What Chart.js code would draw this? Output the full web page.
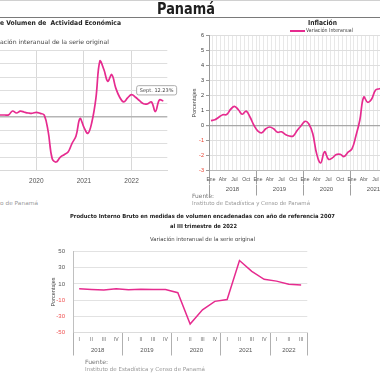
<!DOCTYPE html>
<html><head><meta charset="utf-8">
<script src="https://cdn.jsdelivr.net/npm/chart.js@4"></script>
<style>
html,body{margin:0;padding:0;background:#fff;}
body{width:380px;height:380px;overflow:hidden;position:relative;font-family:"DejaVu Sans",sans-serif;}
canvas{position:absolute;}
.t{position:absolute;white-space:nowrap;line-height:1;transform-origin:0 50%;}
</style></head><body>
<canvas id="c1" width="210" height="150" style="left:-20px;top:40px"></canvas>
<canvas id="c2" width="230" height="175" style="left:180px;top:28px"></canvas>
<canvas id="c3" width="280" height="120" style="left:40px;top:240px"></canvas>

<div style="position:absolute;left:0;top:0;width:380px;height:1px;background:#d0d0d0"></div>
<div style="position:absolute;left:0;top:16.5px;width:380px;height:1.5px;background:#7a7a7a"></div>
<div style="position:absolute;left:290px;top:30px;width:15px;height:1.5px;background:#e62b8f"></div>

<div class="t" data-w="58" data-cy="9.8" style="left:157px;font-size:15px;font-weight:bold;color:#1e1e1e">Panamá</div>
<div class="t" data-w="121" data-cy="23.5" style="left:0px;font-size:6.5px;font-weight:bold;color:#222">e Volumen de&nbsp; Actividad Económica</div>
<div class="t" data-w="109" data-cy="42" style="left:0px;font-size:6px;color:#444">ación interanual de la serie original</div>
<div class="t" data-w="38" data-cy="204" style="left:0px;font-size:5.5px;color:#999">o de Panamá</div>
<div class="t" data-w="29" data-cy="23.5" style="left:308px;font-size:7px;font-weight:bold;color:#222">Inflación</div>
<div class="t" data-w="47" data-cy="30.7" style="left:306px;font-size:5.5px;color:#444">Variación Interanual</div>
<div class="t" data-w="22" data-cy="196" style="left:192px;font-size:6px;color:#777">Fuente:</div>
<div class="t" data-w="118" data-cy="204" style="left:192px;font-size:5.5px;color:#999">Instituto de Estadística y Censo de Panamá</div>
<div class="t" data-w="265" data-cy="216.5" style="left:70px;font-size:5.6px;font-weight:bold;color:#222">Producto Interno Bruto en medidas de volumen encadenadas con año de referencia 2007</div>
<div class="t" data-w="67" data-cy="226.5" style="left:170px;font-size:5.6px;font-weight:bold;color:#222">al III trimestre de 2022</div>
<div class="t" data-w="105" data-cy="239.5" style="left:150px;font-size:5.5px;color:#444">Variación interanual de la serie original</div>
<div class="t" data-w="23" data-cy="361.7" style="left:85px;font-size:6px;color:#777">Fuente:</div>
<div class="t" data-w="120" data-cy="370" style="left:85px;font-size:5.5px;color:#999">Instituto de Estadística y Censo de Panamá</div>

<script>
// ---------- DATA ----------
// IMAE: monthly y/y variation, from Mar 2019 (month offset -10 relative to Jan 2020) to Sep 2022
const imaeFirstMonthOffset = -10;
const imaeValues = [1.7, 1.7, 1.7, 1.8, 4.7, 3.2, 4.6, 3.8, 3.2, 3.0,
  3.7, 2.9, 1.6, -11, -31, -33.5, -30, -28, -26, -19.5, -14, -1,
  -7.5, -12, -3.5, 14, 42, 36, 27, 32, 22, 15, 11.5, 14.5,
  17, 15, 12.4, 10.1, 10, 11.5, 4.3, 13, 12.23];
const imaeYearTicks = [2020, 2021, 2022];
const imaeLastLabel = 'Sept.';

// Inflation: monthly y/y, Jan 2018 ...
const monthAbbr = ['Ene','Feb','Mar','Abr','May','Jun','Jul','Ago','Sep','Oct','Nov','Dic'];
const inflYears = ['2018','2019','2020','2021'];
const inflValues = [0.33, 0.38, 0.55, 0.72, 0.73, 1.07, 1.28, 1.05, 0.75, 0.96, 0.55, 0.0,
  -0.37, -0.48, -0.22, -0.1, -0.22, -0.45, -0.42, -0.6, -0.7, -0.7, -0.33, -0.02,
  0.28, 0.1, -0.55, -1.9, -2.5, -1.75, -2.25, -2.16, -1.93, -1.92, -2.07, -1.78,
  -1.56, -0.7, 0.35, 1.9, 1.55, 1.75, 2.35, 2.45, 2.5];

// PIB: quarterly y/y
const pibYears = ['2018','2019','2020','2021','2022'];
const pibQuartersPerYear = [4, 4, 4, 4, 3];
const quarterNames = ['I','II','III','IV'];
const pibValues = [4.2, 3.3, 2.4, 4.2, 2.9, 3.6, 3.0, 3.0, -0.8, -39.5, -22, -11.5, -9.3, 39, 25.6, 15.8, 13.5, 9.6, 8.8];

// ---------- TEXT FIT ----------
document.querySelectorAll('.t').forEach(el => {
  const fs = parseFloat(el.style.fontSize);
  el.style.top = (parseFloat(el.dataset.cy) - fs / 2) + 'px';
  const nat = el.getBoundingClientRect().width;
  el.style.transform = 'scaleX(' + (parseFloat(el.dataset.w) / nat) + ')';
});

const PINK = '#e62b8f';
const TF = 'Liberation Sans';
const CLEAR = 'rgba(0,0,0,0)';
const base = {responsive:false, animation:false, devicePixelRatio:1,
  plugins:{legend:{display:false}, tooltip:{enabled:false}}};

// ---------- CHART 1: IMAE ----------
const annot = {
  id:'annot',
  afterDatasetsDraw(chart){
    const meta = chart.getDatasetMeta(0);
    const pt = meta.data[meta.data.length-1];
    const v = imaeValues[imaeValues.length-1];
    const ctx = chart.ctx;
    const x = pt.x - 26.7, y = pt.y - 15.3, w = 40, h = 9.3;
    ctx.save();
    ctx.beginPath();
    ctx.roundRect(x, y, w, h, 2);
    ctx.fillStyle = '#fff'; ctx.fill();
    ctx.strokeStyle = '#9a9a9a'; ctx.lineWidth = 0.8; ctx.stroke();
    ctx.fillStyle = '#444';
    ctx.font = '5px "DejaVu Sans"';
    ctx.textAlign = 'center'; ctx.textBaseline = 'middle';
    ctx.fillText(imaeLastLabel + ' ' + v.toFixed(2) + '%', x + w/2, y + h/2 + 0.3);
    ctx.restore();
  }
};
new Chart(document.getElementById('c1'), {
  type:'line',
  data:{datasets:[{data: imaeValues.map((v,i)=>({x: imaeFirstMonthOffset + i, y: v})),
    borderColor:PINK, borderWidth:1.7, pointRadius:0, tension:0.4, fill:false}]},
  options:Object.assign({}, base, {
    layout:{padding:{left:8.7, right:22.7, top:10.5, bottom:0}},
    scales:{
      x:{type:'linear', min:-12, max:33,
        afterBuildTicks:s=>{ s.ticks = imaeYearTicks.map(y=>({value:(y-2020)*12})); },
        afterFit:s=>{ s.height = 19.3; },
        grid:{color:'#d8d8d8', drawTicks:false},
        border:{display:true, color:'#d8d8d8'},
        ticks:{autoSkip:false, maxRotation:0, padding:6.4, font:{size:6.5, family:TF}, color:'#555',
          callback:v=> String(2020 + v/12)}},
      y:{min:-40, max:50,
        afterFit:s=>{ s.width = 0; },
        ticks:{stepSize:10, display:false},
        grid:{drawTicks:false, color:c=> c.tick.value===0 ? '#b5b5b5' : '#dedede',
          lineWidth:c=> c.tick.value===0 ? 1.6 : 1},
        border:{display:false}}
    }
  }),
  plugins:[annot]
});

// ---------- CHART 2: Inflación ----------
const inflLabels = [];
inflYears.forEach(()=> monthAbbr.forEach(m => inflLabels.push(m)));
const inflYearTicks = [];
inflYears.forEach((y,i)=>{ inflYearTicks.push(i*12, i*12+6); });
inflYearTicks.push(inflYears.length*12);
new Chart(document.getElementById('c2'), {
  type:'line',
  data:{labels:inflLabels, datasets:[{data:inflValues, borderColor:PINK, borderWidth:1.7,
    pointRadius:0, tension:0.4, fill:false, xAxisID:'x', yAxisID:'y'}]},
  options:Object.assign({}, base, {
    layout:{padding:{left:0, right:13, top:7.5, bottom:7.5}},
    scales:{
      x:{type:'category', position:'bottom', weight:0, offset:true,
        afterFit:s=>{ s.height = 14; },
        grid:{offset:true, color:'#e8e8e8', drawTicks:true, tickLength:14,
          tickColor:c=> (c.index===undefined || c.index%12===0) ? '#a0a0a0' : CLEAR},
        border:{display:true, color:'#b8b8b8'},
        ticks:{autoSkip:false, maxRotation:0, minRotation:0, padding:-8.3,
          font:{size:5, family:TF}, color:'#555',
          callback:(v,i)=> i%3===0 ? inflLabels[i] : ''}},
      x2:{type:'linear', position:'bottom', weight:1, min:0, max:inflLabels.length,
        afterBuildTicks:s=>{ s.ticks = inflYearTicks.map(v=>({value:v})); },
        afterFit:s=>{ s.height = 11; },
        grid:{drawOnChartArea:false, drawTicks:true, tickLength:11,
          tickColor:c=> (c.tick && c.tick.value%12===0) ? '#a0a0a0' : CLEAR},
        border:{display:false},
        ticks:{autoSkip:false, maxRotation:0, padding:-10.1, font:{size:6, family:TF}, color:'#555',
          callback:v=> v%12===6 ? inflYears[(v-6)/12] : ''}},
      y:{min:-3, max:6,
        afterFit:s=>{ s.width = 29; },
        ticks:{stepSize:1, padding:2, font:{size:5.5, family:TF},
          color:c=> c.tick.value<0 ? '#e8412f' : '#333'},
        grid:{color:c=> c.tick.value===0 ? '#a8a8a8' : '#dedede',
          lineWidth:c=> c.tick.value===0 ? 1.2 : 1,
          drawTicks:true, tickLength:3, tickColor:'#999'},
        border:{display:true, color:'#999'},
        title:{display:true, text:'Porcentajes', font:{size:5.5, family:TF}, color:'#444',
          padding:{top:10.7, bottom:0}}}
    }
  })
});

// ---------- CHART 3: PIB ----------
const pibLabels = [];
pibQuartersPerYear.forEach(n=>{ for(let q=0;q<n;q++) pibLabels.push(quarterNames[q]); });
const pibBoundaries = [0];
pibQuartersPerYear.forEach(n=> pibBoundaries.push(pibBoundaries[pibBoundaries.length-1] + n));
const pibMids = pibYears.map((y,i)=> (pibBoundaries[i] + pibBoundaries[i+1]) / 2);
new Chart(document.getElementById('c3'), {
  type:'line',
  data:{labels:pibLabels, datasets:[{data:pibValues, borderColor:PINK, borderWidth:1.5,
    pointRadius:0, tension:0, fill:false, xAxisID:'x', yAxisID:'y'}]},
  options:Object.assign({}, base, {
    layout:{padding:{left:0, right:12.7, top:6.5, bottom:4.5}},
    scales:{
      x:{type:'category', position:'bottom', weight:0, offset:true,
        afterFit:s=>{ s.height = 13.5; },
        grid:{offset:true, color:CLEAR, drawTicks:true, tickLength:13.5,
          tickColor:c=> (c.index===undefined || pibBoundaries.includes(c.index)) ? '#b0b0b0' : CLEAR},
        border:{display:true, color:'#dcdcdc'},
        ticks:{autoSkip:false, maxRotation:0, minRotation:0, padding:-9.3,
          font:{size:5, family:TF}, color:'#666'}},
      x2:{type:'linear', position:'bottom', weight:1, min:0, max:pibBoundaries[pibBoundaries.length-1],
        afterBuildTicks:s=>{ s.ticks = pibBoundaries.concat(pibMids).sort((a,b)=>a-b).map(v=>({value:v})); },
        afterFit:s=>{ s.height = 9.5; },
        grid:{drawOnChartArea:false, drawTicks:true, tickLength:9.5,
          tickColor:c=> (c.tick && pibBoundaries.includes(c.tick.value)) ? '#b0b0b0' : CLEAR},
        border:{display:false},
        ticks:{autoSkip:false, maxRotation:0, padding:-8.9, font:{size:6, family:TF}, color:'#555',
          callback:v=> { const i = pibMids.indexOf(v); return i>=0 ? pibYears[i] : ''; }}},
      y:{min:-50, max:50,
        afterFit:s=>{ s.width = 33; },
        ticks:{stepSize:10, padding:8, font:{size:6, family:TF},
          color:c=> c.tick.value<0 ? '#f05050' : '#555'},
        grid:{color:'#e2e2e2', drawTicks:false},
        border:{display:true, color:'#c0c0c0'},
        title:{display:true, text:'Porcentajes', font:{size:5.5, family:TF}, color:'#444',
          padding:{top:9.7, bottom:0}}}
    }
  })
});
</script>
</body></html>
